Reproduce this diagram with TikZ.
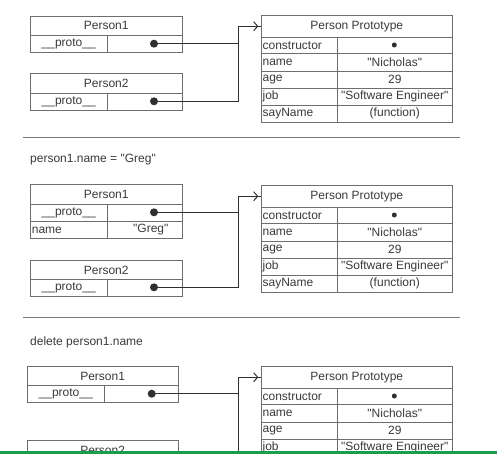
\documentclass[tikz,border=0pt]{standalone}
\usepackage{fontspec}
\setmainfont{Liberation Sans}[Ligatures=TeXOff]
\usetikzlibrary{arrows.meta}
\definecolor{linec}{HTML}{6E6E6E}
\definecolor{txt}{HTML}{3A3A3A}
\definecolor{connc}{HTML}{303030}
\definecolor{sepc}{HTML}{7A7A7A}
\definecolor{greenbar}{HTML}{1B9E4B}
\tikzset{
  cell/.style={draw=linec, line width=0.8pt, inner sep=0pt, anchor=north west,
    font=\fontsize{12}{13}\selectfont, text=txt},
  lcell/.style={cell, align=left},
  dot/.style={circle, fill=connc, inner sep=0pt, minimum size=8pt},
  sdot/.style={circle, fill=connc, inner sep=0pt, minimum size=5pt},
  conn/.style={draw=connc, line width=1.2pt},
  arr/.style={conn, -{Straight Barb[length=4pt,width=9pt,line width=1pt]}, shorten >=2.4pt},
  sep/.style={draw=sepc, line width=1.6pt},
  caption/.style={anchor=west, inner sep=0pt, font=\fontsize{12}{13}\selectfont, text=txt}
}
\begin{document}
\begin{tikzpicture}[x=1pt,y=-1pt]
\useasboundingbox (0,0) rectangle (497,454);
\clip (0,0) rectangle (497,454);
\fill[white] (0,0) rectangle (497,454);

% ---------- Section 1 ----------
% Person1
\node[cell, minimum width=151.7pt, minimum height=19.3pt] (s1p1h) at (30,15.7) {Person1};
\node[cell, minimum width=76.7pt, minimum height=17.3pt] (s1p1k) at (30,35) {\_\_proto\_\_};
\node[cell, minimum width=75pt, minimum height=17.3pt] (s1p1v) at (106.7,35) {};
\node[dot] (s1d1) at (154,43.7) {};
% Person2
\node[cell, minimum width=151.7pt, minimum height=19.4pt] (s1p2h) at (30,73.3) {Person2};
\node[cell, minimum width=76.7pt, minimum height=17.3pt] (s1p2k) at (30,92.7) {\_\_proto\_\_};
\node[cell, minimum width=75pt, minimum height=17.3pt] (s1p2v) at (106.7,92.7) {};
\node[dot] (s1d2) at (154,101.3) {};
% Prototype
\node[cell, minimum width=191.3pt, minimum height=21.7pt] (s1ph) at (260.7,15) {Person Prototype};
\node[lcell, minimum width=76pt, text width=73pt, minimum height=16.6pt] (s1k1) at (260.7,36.7) {constructor};
\node[cell, minimum width=115.3pt, minimum height=16.6pt] (s1v1) at (336.7,36.7) {};
\node[sdot] (s1cd) at (394.3,45) {};
\node[lcell, minimum width=76pt, text width=73pt, minimum height=17.4pt] (s1k2) at (260.7,53.3) {name};
\node[cell, minimum width=115.3pt, minimum height=17.4pt] (s1v2) at (336.7,53.3) {"Nicholas"};
\node[lcell, minimum width=76pt, text width=73pt, minimum height=17pt] (s1k3) at (260.7,70.7) {age};
\node[cell, minimum width=115.3pt, minimum height=17pt] (s1v3) at (336.7,70.7) {29};
\node[lcell, minimum width=76pt, text width=73pt, minimum height=17pt] (s1k4) at (260.7,87.7) {job};
\node[cell, minimum width=115.3pt, minimum height=17pt] (s1v4) at (336.7,87.7) {"Software Engineer"};
\node[lcell, minimum width=76pt, text width=73pt, minimum height=17.3pt] (s1k5) at (260.7,104.7) {sayName};
\node[cell, minimum width=115.3pt, minimum height=17.3pt] (s1v5) at (336.7,104.7) {(function)};
% connectors
\coordinate (s1j) at (238.3,60);
\draw[arr] (s1d1.center) -- (s1d1.center -| s1j) |- (s1ph.west);
\draw[conn] (s1d2.center) -- (s1d2.center -| s1j) |- (s1ph.west);

\draw[sep] (23.3,137.7) coordinate (sepa1) -- (460,137.7) coordinate (sepb1);

% ---------- Section 2 ----------
\node[caption] (cap2) at (30,159.5) {person1.name = "Greg"};
\node[cell, minimum width=151.7pt, minimum height=20pt] (s2p1h) at (30,184.3) {Person1};
\node[cell, minimum width=76.7pt, minimum height=16.7pt] (s2p1k) at (30,204.3) {\_\_proto\_\_};
\node[cell, minimum width=75pt, minimum height=16.7pt] (s2p1v) at (106.7,204.3) {};
\node[dot] (s2d1) at (154,212.3) {};
\node[lcell, minimum width=76.7pt, text width=73.7pt, minimum height=17pt] (s2p1n) at (30,221) {name};
\node[cell, minimum width=75pt, minimum height=17pt] (s2p1g) at (106.7,221) {};
\node[inner sep=0pt, font=\fontsize{12}{13}\selectfont, text=txt] (s2greg) at (150.8,229.5) {"Greg"};
\node[cell, minimum width=151.7pt, minimum height=19.3pt] (s2p2h) at (30,260) {Person2};
\node[cell, minimum width=76.7pt, minimum height=16.7pt] (s2p2k) at (30,279.3) {\_\_proto\_\_};
\node[cell, minimum width=75pt, minimum height=16.7pt] (s2p2v) at (106.7,279.3) {};
\node[dot] (s2d2) at (154,287.3) {};
% Prototype
\node[cell, minimum width=191.3pt, minimum height=21.7pt] (s2ph) at (260.7,185) {Person Prototype};
\node[lcell, minimum width=76pt, text width=73pt, minimum height=16.6pt] (s2k1) at (260.7,206.7) {constructor};
\node[cell, minimum width=115.3pt, minimum height=16.6pt] (s2v1) at (336.7,206.7) {};
\node[sdot] (s2cd) at (394.3,215) {};
\node[lcell, minimum width=76pt, text width=73pt, minimum height=17.4pt] (s2k2) at (260.7,223.3) {name};
\node[cell, minimum width=115.3pt, minimum height=17.4pt] (s2v2) at (336.7,223.3) {"Nicholas"};
\node[lcell, minimum width=76pt, text width=73pt, minimum height=17pt] (s2k3) at (260.7,240.7) {age};
\node[cell, minimum width=115.3pt, minimum height=17pt] (s2v3) at (336.7,240.7) {29};
\node[lcell, minimum width=76pt, text width=73pt, minimum height=17pt] (s2k4) at (260.7,257.7) {job};
\node[cell, minimum width=115.3pt, minimum height=17pt] (s2v4) at (336.7,257.7) {"Software Engineer"};
\node[lcell, minimum width=76pt, text width=73pt, minimum height=17.3pt] (s2k5) at (260.7,274.7) {sayName};
\node[cell, minimum width=115.3pt, minimum height=17.3pt] (s2v5) at (336.7,274.7) {(function)};
\coordinate (s2j) at (238.3,240);
\draw[arr] (s2d1.center) -- (s2d1.center -| s2j) |- (s2ph.west);
\draw[conn] (s2d2.center) -- (s2d2.center -| s2j) |- (s2ph.west);

\draw[sep] (23.3,317.3) coordinate (sepa2) -- (460,317.3) coordinate (sepb2);

% ---------- Section 3 ----------
\node[caption] (cap3) at (30,342.7) {delete person1.name};
\node[cell, minimum width=151pt, minimum height=19.3pt] (s3p1h) at (26.7,366) {Person1};
\node[cell, minimum width=77.3pt, minimum height=16.4pt] (s3p1k) at (26.7,385.3) {\_\_proto\_\_};
\node[cell, minimum width=73.7pt, minimum height=16.4pt] (s3p1v) at (104,385.3) {};
\node[dot] (s3d1) at (151.7,393.7) {};
\node[cell, minimum width=151pt, minimum height=19.3pt] (s3p2h) at (26.7,440) {Person2};
\node[cell, minimum width=77.3pt, minimum height=16.4pt] (s3p2k) at (26.7,459.3) {\_\_proto\_\_};
\node[cell, minimum width=73.7pt, minimum height=16.4pt] (s3p2v) at (104,459.3) {};
\node[dot] (s3d2) at (151.7,467.7) {};
% Prototype
\node[cell, minimum width=191.3pt, minimum height=21.7pt] (s3ph) at (260.7,366) {Person Prototype};
\node[lcell, minimum width=76pt, text width=73pt, minimum height=16.6pt] (s3k1) at (260.7,387.7) {constructor};
\node[cell, minimum width=115.3pt, minimum height=16.6pt] (s3v1) at (336.7,387.7) {};
\node[sdot] (s3cd) at (394.3,396) {};
\node[lcell, minimum width=76pt, text width=73pt, minimum height=17.4pt] (s3k2) at (260.7,404.3) {name};
\node[cell, minimum width=115.3pt, minimum height=17.4pt] (s3v2) at (336.7,404.3) {"Nicholas"};
\node[lcell, minimum width=76pt, text width=73pt, minimum height=17pt] (s3k3) at (260.7,421.7) {age};
\node[cell, minimum width=115.3pt, minimum height=17pt] (s3v3) at (336.7,421.7) {29};
\node[lcell, minimum width=76pt, text width=73pt, minimum height=17pt] (s3k4) at (260.7,438.7) {job};
\node[cell, minimum width=115.3pt, minimum height=17pt] (s3v4) at (336.7,438.7) {"Software Engineer"};
\coordinate (s3j) at (238.3,420);
\draw[arr] (s3d1.center) -- (s3d1.center -| s3j) |- (s3ph.west);
\draw[conn] (s3d2.center) -- (s3d2.center -| s3j) |- (s3ph.west);

% bottom green bar
\fill[greenbar] (0,451.4) rectangle (497,454);
\end{tikzpicture}
\end{document}
